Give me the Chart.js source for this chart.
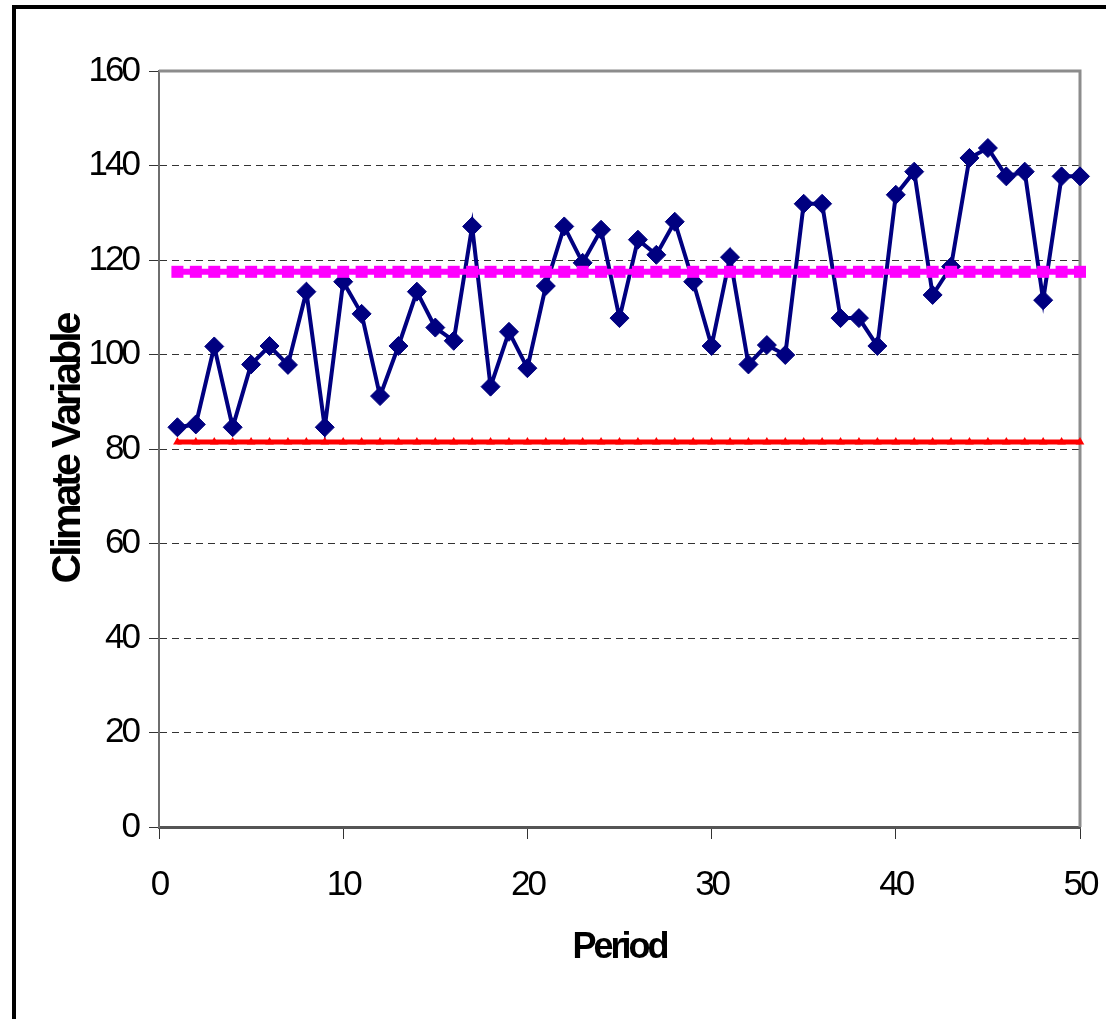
<!DOCTYPE html>
<html>
<head>
<meta charset="utf-8">
<script src="https://cdn.jsdelivr.net/npm/chart.js@4/dist/chart.umd.min.js"></script>
<style>
  html, body { margin: 0; padding: 0; background: #fff; overflow: hidden; }
  #wrap { position: relative; width: 1106px; height: 1019px; }
  #frame {
    position: absolute; left: 12px; top: 5px; width: 1200px; height: 1200px;
    border-top: 4px solid #000; border-left: 4px solid #000; pointer-events: none;
  }
</style>
</head>
<body>
<div id="wrap">
  <canvas id="climateChart"></canvas>
  <div id="frame"></div>
</div>
<script>
// Period numbers along the x axis
const periods = [1, 2, 3, 4, 5, 6, 7, 8, 9, 10,
  11, 12, 13, 14, 15, 16, 17, 18, 19, 20,
  21, 22, 23, 24, 25, 26, 27, 28, 29, 30,
  31, 32, 33, 34, 35, 36, 37, 38, 39, 40,
  41, 42, 43, 44, 45, 46, 47, 48, 49, 50];

// Observed climate variable for each period
const climateValues = [84.6, 85.2, 101.7, 84.6, 97.9, 101.8, 97.8, 113.3, 84.6, 115.4,
  108.6, 91.2, 101.8, 113.3, 105.7, 102.9, 127.1, 93.2, 104.8, 97.1,
  114.5, 127.1, 119.4, 126.4, 107.7, 124.3, 121.1, 128.1, 115.4, 101.8,
  120.6, 97.9, 102.0, 99.9, 131.9, 131.9, 107.7, 107.7, 101.8, 133.8,
  138.7, 112.6, 118.6, 141.6, 143.7, 137.7, 138.7, 111.5, 137.7, 137.7];

// Reference levels drawn as flat lines
const upperLevel = 117.5;
const lowerLevel = 81.5;

// Axis tick settings
const yTicks = { min: 0, max: 160, step: 20 };
const xTicks = { min: 0, max: 50, step: 10 };

const asPoints = vals => periods.map((p, i) => ({ x: p, y: vals[i] }));
const flatLine = level => periods.map(p => ({ x: p, y: level }));

const sans = "'Liberation Sans', Arial, sans-serif";
const tickFont = { family: sans, size: 35 };

// tighter text, like the narrow labels of the old spreadsheet chart
const tightText = {
  id: 'tightText',
  beforeDraw(chart) {
    chart.ctx.letterSpacing = '-3px';
  }
};

// gray frame on the top and right of the plot area
const plotFrame = {
  id: 'plotFrame',
  beforeDatasetsDraw(chart) {
    const { ctx, chartArea: a } = chart;
    ctx.save();
    ctx.strokeStyle = '#8c8c8c';
    ctx.lineWidth = 3;
    ctx.beginPath();
    ctx.moveTo(a.left, a.top);
    ctx.lineTo(a.right, a.top);
    ctx.lineTo(a.right, a.bottom);
    ctx.stroke();
    ctx.restore();
  }
};

const ctx = document.getElementById('climateChart').getContext('2d');
const chart = new Chart(ctx, {
  type: 'line',
  data: {
    datasets: [{
      label: 'Climate Variable',
      data: asPoints(climateValues),
      borderColor: '#000080',
      backgroundColor: '#000080',
      borderWidth: 4,
      pointStyle: 'rectRot',
      pointRadius: 9.5,
      pointBorderWidth: 1,
      tension: 0,
      clip: false,
      order: 3
    }, {
      label: 'Lower',
      data: flatLine(lowerLevel),
      borderColor: '#ff0000',
      backgroundColor: '#ff0000',
      borderWidth: 5,
      pointStyle: 'triangle',
      pointRadius: 5,
      pointBorderWidth: 0,
      tension: 0,
      clip: false,
      order: 2
    }, {
      label: 'Upper',
      data: flatLine(upperLevel),
      borderColor: '#ff00ff',
      backgroundColor: '#ff00ff',
      borderWidth: 6,
      pointStyle: 'rect',
      pointRadius: 8.5,
      pointBorderWidth: 0,
      tension: 0,
      clip: false,
      order: 1
    }]
  },
  options: {
    responsive: true,
    maintainAspectRatio: false,
    animation: false,
    events: [],
    layout: { padding: { left: 16, top: 71, right: 26, bottom: 0 } },
    plugins: {
      legend: { display: false },
      tooltip: { enabled: false }
    },
    scales: {
      x: {
        type: 'linear',
        min: xTicks.min,
        max: xTicks.max,
        afterFit: scale => {
          scale.height = 192;
          scale.paddingLeft = 0;
          scale.paddingRight = 0;
        },
        ticks: { stepSize: xTicks.step, color: '#000', font: tickFont, padding: 25, maxRotation: 0 },
        grid: { drawOnChartArea: false, tickLength: 12, tickColor: '#333', tickWidth: 1 },
        border: { color: '#555', width: 3 },
        title: {
          display: true,
          text: 'Period',
          color: '#000',
          font: { family: sans, size: 36, weight: 'bold', lineHeight: 1.2 },
          padding: { top: 0, bottom: 49 }
        }
      },
      y: {
        min: yTicks.min,
        max: yTicks.max,
        afterFit: scale => { scale.width = 143; },
        ticks: { stepSize: yTicks.step, color: '#000', font: tickFont, padding: 11 },
        grid: {
          color: c => (c.tick && (c.tick.value === yTicks.min || c.tick.value === yTicks.max)) ? 'rgba(0,0,0,0)' : '#333',
          lineWidth: 1,
          tickLength: 10,
          tickColor: '#333',
          tickWidth: 1
        },
        border: { color: '#6e6e6e', width: 2, dash: [7, 5] },
        title: {
          display: true,
          text: 'Climate Variable',
          color: '#000',
          font: { family: sans, size: 41, weight: 'bold', lineHeight: 1.2 },
          padding: { top: 28, bottom: 0 }
        }
      }
    }
  },
  plugins: [tightText, plotFrame]
});
</script>
</body>
</html>
